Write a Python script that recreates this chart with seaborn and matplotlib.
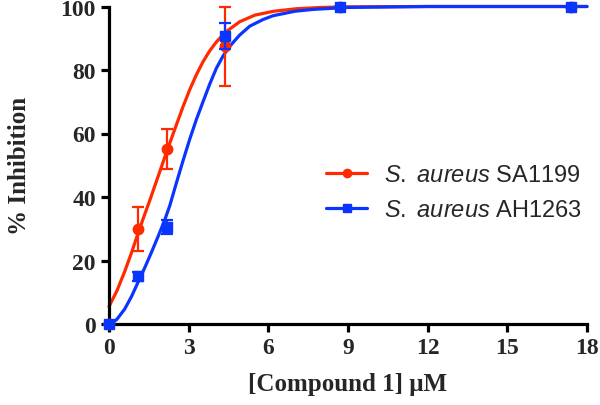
import matplotlib
matplotlib.use("Agg")
import matplotlib.pyplot as plt
from matplotlib.lines import Line2D
import seaborn as sns
import pandas as pd

# ---- data ----
conc = [0, 1.09, 2.18, 4.35, 8.7, 17.4]
sa1199_mean = [0, 30, 55, 87.5, 100, 100]
sa1199_err = [0, 7, 6.3, 12.4, 0, 0]
ah1263_mean = [0, 15, 30.5, 90.7, 100, 100]
ah1263_err = [0, 1.5, 2.3, 4, 0, 0]

# fitted curves
sa1199_fit_x = [0, 0.3, 0.59, 0.85, 1.09, 1.3, 1.53, 1.85, 2.16, 2.54, 2.79, 3.04, 3.29,
                3.54, 3.79, 4.04, 4.37, 4.92, 5.5, 6.2, 7.06, 8, 9, 12, 18]
sa1199_fit_y = [5.5, 10.5, 16.5, 22.5, 28.5, 33.5, 38.8, 46.5, 54, 62.8, 68.5, 73.8, 78.5,
                82.6, 86, 88.8, 91.8, 95.2, 97.3, 98.5, 99.3, 99.7, 99.9, 100, 100]
ah1263_fit_x = [0, 0.3, 0.59, 0.85, 1.09, 1.35, 1.6, 1.85, 2.1, 2.29, 2.54, 2.79, 3.04, 3.29,
                3.54, 3.79, 4.04, 4.3, 4.55, 4.92, 5.3, 5.8, 6.18, 7, 7.7, 9, 12, 18]
ah1263_fit_y = [-0.5, 1.5, 4.7, 8.7, 13.1, 17.8, 22.6, 27.6, 32.8, 37.3, 44.5, 51.5, 58.2, 64.4,
                70, 75.5, 80.5, 84.5, 87.5, 91, 93.8, 95.9, 97.1, 98.5, 99.1, 99.7, 100, 100]

labels = [r"$\mathit{S.\ aureus}$ SA1199", r"$\mathit{S.\ aureus}$ AH1263"]
red = "#FF2A00"
blue = "#0A35FF"

x_ticks = [0, 3, 6, 9, 12, 15, 18]
y_ticks = [0, 20, 40, 60, 80, 100]

sns.set_style("ticks")
plt.rcParams["mathtext.fontset"] = "custom"
plt.rcParams["mathtext.rm"] = "Liberation Sans"
plt.rcParams["mathtext.it"] = "Liberation Sans:italic"

fig = plt.figure(figsize=(6.0, 4.06), dpi=100)
ax = fig.add_axes([109 / 600, (406 - 325) / 406, (587 - 109) / 600, (325 - 7.5) / 406])

fit_df = pd.concat([
    pd.DataFrame({"x": sa1199_fit_x, "y": sa1199_fit_y, "s": labels[0]}),
    pd.DataFrame({"x": ah1263_fit_x, "y": ah1263_fit_y, "s": labels[1]}),
])
sns.lineplot(data=fit_df, x="x", y="y", hue="s", palette=[red, blue], sort=False,
             estimator=None, linewidth=2.3, legend=False, ax=ax, clip_on=False)

ax.errorbar(conc, sa1199_mean, yerr=sa1199_err, fmt="o", color=red, markersize=7.5,
            elinewidth=1.6, capsize=4.5, capthick=1.6, clip_on=False, zorder=3)
ax.errorbar(conc, ah1263_mean, yerr=ah1263_err, fmt="s", color=blue, markersize=7.5,
            elinewidth=1.6, capsize=4.5, capthick=1.6, clip_on=False, zorder=4)

ax.set_xlim(0, 18)
ax.set_ylim(0, 100)
ax.set_xticks(x_ticks)
ax.set_yticks(y_ticks)
sns.despine(ax=ax)
for sp in ["left", "bottom"]:
    ax.spines[sp].set_linewidth(2.3)
    ax.spines[sp].set_color("black")
ax.tick_params(axis="both", width=2.3, length=5.5, color="black", pad=4,
               labelsize=17)
for lab in ax.get_xticklabels() + ax.get_yticklabels():
    lab.set_fontfamily("Liberation Serif")
    lab.set_fontweight("bold")

ax.set_xlabel(r"[Compound 1] μM", fontfamily="Liberation Serif", fontweight="bold",
              fontsize=18, labelpad=10)
ax.set_ylabel("% Inhibition", fontfamily="Liberation Serif", fontweight="bold",
              fontsize=18, labelpad=21)

handles = [
    Line2D([], [], color=red, marker="o", markersize=6, linewidth=2.3),
    Line2D([], [], color=blue, marker="s", markersize=6, linewidth=2.3),
]
ax.legend(handles, labels, loc="center left", bbox_to_anchor=(0.455, 0.414),
          frameon=False, prop={"family": "Liberation Sans", "size": 17},
          handlelength=1.7, handletextpad=0.75, labelspacing=0.55,
          borderpad=0, borderaxespad=0, numpoints=1)

fig.savefig("out.png", dpi=100)
